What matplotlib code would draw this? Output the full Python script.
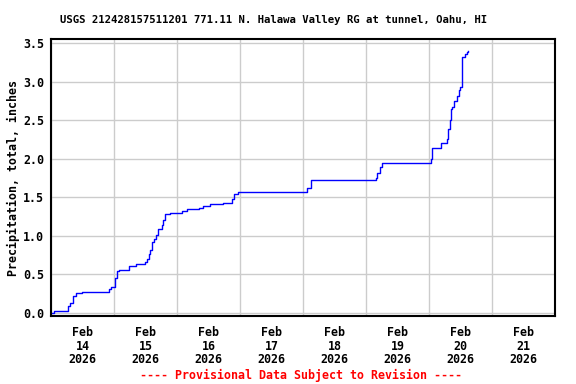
import pandas as pd
import matplotlib
matplotlib.use("Agg")
import matplotlib.pyplot as plt

# hours after 2026-02-14 00:00 and cumulative precipitation (inches)
hours = [0.0, 1.2, 6.5, 7.2, 8.5, 9.6, 11.7, 22.2, 22.8, 24.4, 25.0, 26.0,
         29.8, 32.4, 35.7, 36.5, 37.2, 37.7, 38.4, 39.1, 40.0, 40.9, 42.2,
         42.8, 43.4, 45.3, 49.8, 51.7, 56.5, 58.0, 60.6, 65.6, 68.2, 68.8,
         69.7, 71.4, 97.4, 98.9, 123.7, 124.3, 125.3, 126.2, 144.6, 145.2,
         148.7, 150.7, 151.4, 151.9, 152.3, 152.9, 153.5, 154.6, 155.3,
         155.8, 156.5, 156.7, 157.7, 158.4, 158.7]
precip = [0.0, 0.02, 0.09, 0.12, 0.22, 0.25, 0.27, 0.31, 0.33, 0.45, 0.54, 0.55,
          0.61, 0.63, 0.66, 0.70, 0.76, 0.81, 0.92, 0.95, 1.01, 1.09, 1.14,
          1.20, 1.28, 1.30, 1.32, 1.34, 1.365, 1.38, 1.41, 1.42, 1.43, 1.48,
          1.54, 1.57, 1.62, 1.72, 1.75, 1.81, 1.89, 1.94, 2.00, 2.14,
          2.20, 2.25, 2.39, 2.50, 2.64, 2.67, 2.75, 2.81, 2.89,
          2.93, 3.00, 3.32, 3.36, 3.39, 3.40]

start = pd.Timestamp("2026-02-14")
times = [start + pd.Timedelta(hours=h) for h in hours]
days = pd.date_range("2026-02-14", "2026-02-22", freq="D")
day_labels = [d.strftime("%b\n%d\n%Y") for d in days[:-1]]

font = "DejaVu Sans Mono"
fs = 8.4
fig = plt.figure(figsize=(5.76, 3.84), dpi=100)
ax = fig.add_axes([0.0885, 0.177, 0.875, 0.7214])

ax.plot(times, precip, color="#0000ff", linewidth=1, drawstyle="steps-post")

ax.set_xlim(days[0], days[-1])
ax.set_ylim(-0.045, 3.555)
ax.set_xticks(days)
ax.set_xticklabels([])
ax.set_xticks([d + pd.Timedelta(hours=12) for d in days[:-1]], minor=True)
ax.set_xticklabels(day_labels, minor=True, fontfamily=font, fontweight="bold",
                   fontsize=fs, linespacing=1.08)
ax.set_yticks([0, 0.5, 1.0, 1.5, 2.0, 2.5, 3.0, 3.5])
ax.set_yticklabels(["0.0", "0.5", "1.0", "1.5", "2.0", "2.5", "3.0", "3.5"],
                   fontfamily=font, fontweight="bold", fontsize=fs)
ax.tick_params(axis="x", which="both", length=0, pad=7)
ax.tick_params(axis="y", which="both", length=0, pad=5)
ax.grid(True, which="major", color="#cccccc", linewidth=1)
for s in ax.spines.values():
    s.set_linewidth(1.5)

ax.set_ylabel("Precipitation, total, inches", fontfamily=font, fontweight="bold",
              fontsize=fs, labelpad=2)

fig.text(274 / 576, 1 - 20 / 384,
         "USGS 212428157511201 771.11 N. Halawa Valley RG at tunnel, Oahu, HI",
         ha="center", va="center", fontfamily=font, fontweight="bold", fontsize=7.7)
fig.text(301 / 576, 1 - 375 / 384, "---- Provisional Data Subject to Revision ----",
         ha="center", va="center", color="red", fontfamily=font,
         fontweight="bold", fontsize=fs)

fig.savefig("out.png", dpi=100)
